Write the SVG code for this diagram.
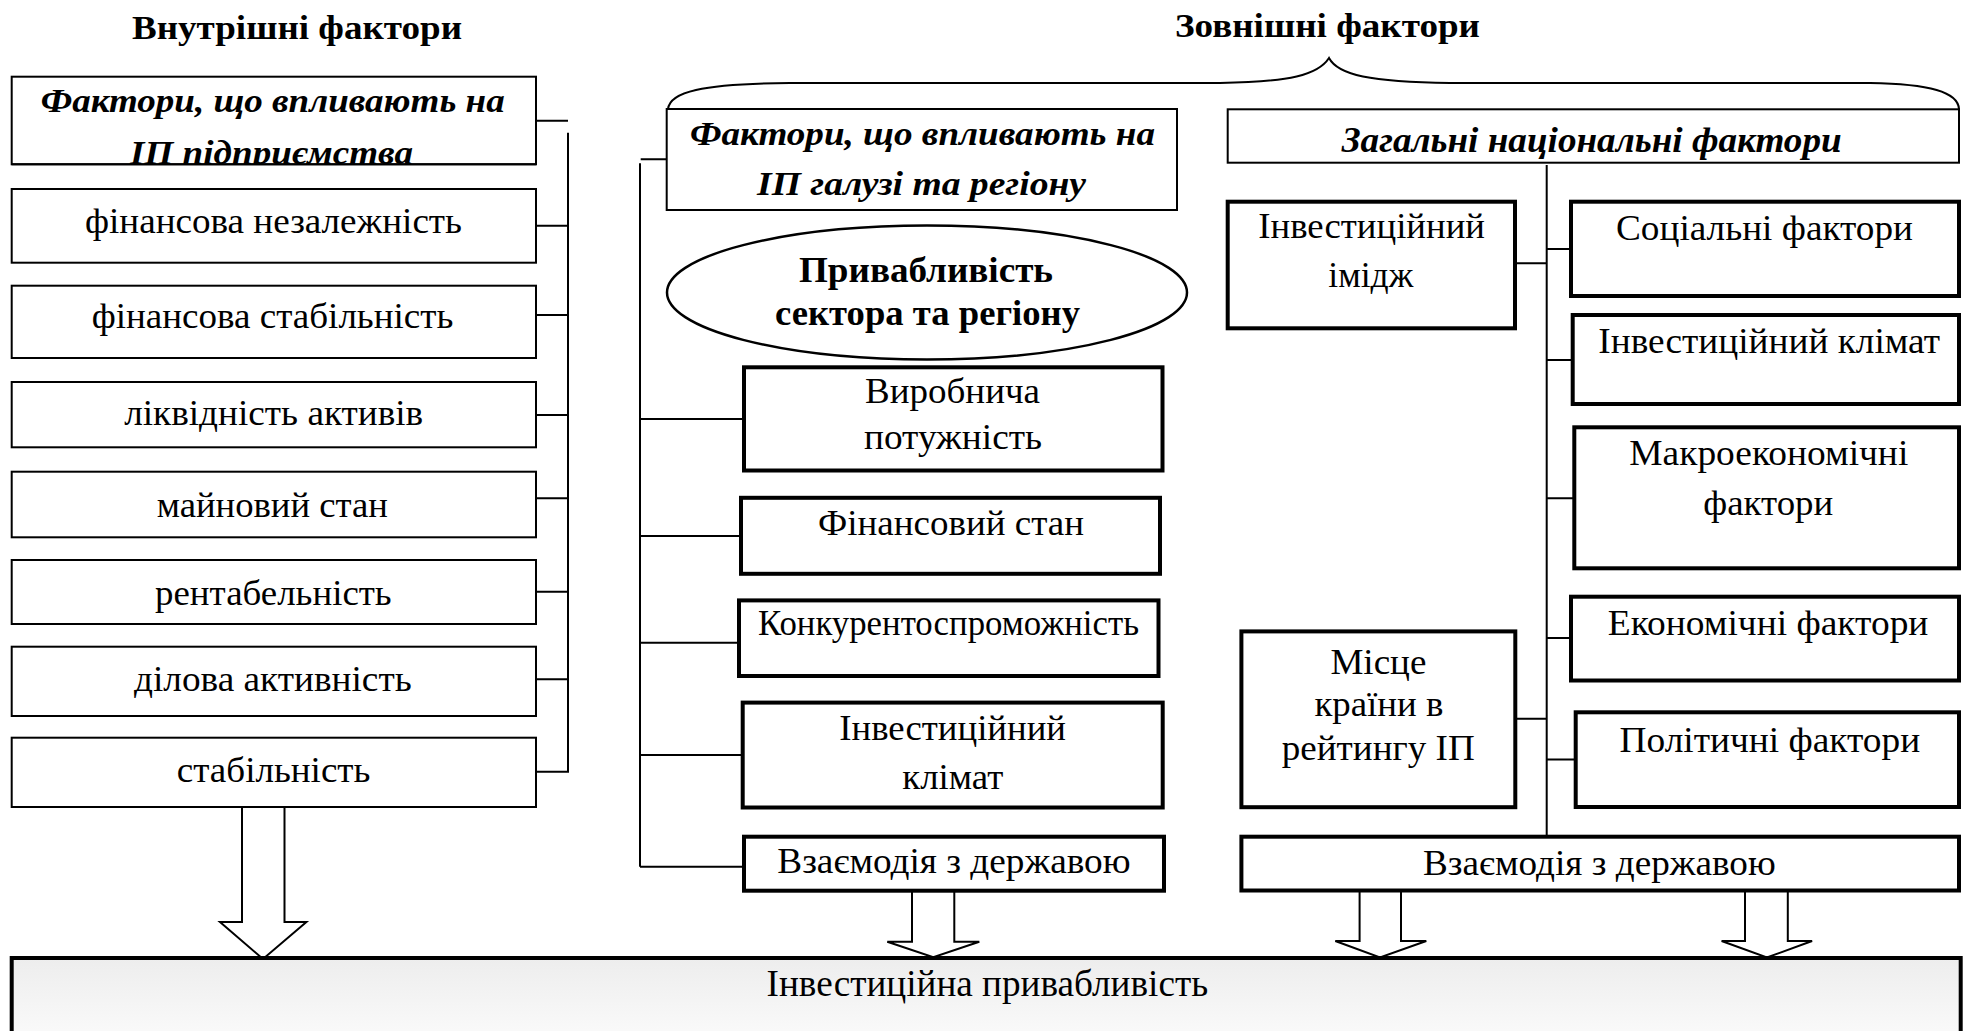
<svg xmlns="http://www.w3.org/2000/svg" width="1963" height="1031" viewBox="0 0 1963 1031">
<style>
.thin{fill:#fff;stroke:#000;stroke-width:2}
.thick{fill:#fff;stroke:#000;stroke-width:4}
.ell{fill:#fff;stroke:#000;stroke-width:2.5}
.ln{fill:none;stroke:#000;stroke-width:2}
.arr{fill:#fff;stroke:#000;stroke-width:2;stroke-linejoin:miter}
text{font-family:"Liberation Serif","Times New Roman",serif;font-size:36px;fill:#000}
.b{font-weight:bold}
.bi{font-weight:bold;font-style:italic;font-size:34px}
.ttl{font-weight:bold;font-size:34px}
</style>
<defs>
<linearGradient id="bg" x1="0" y1="0" x2="0" y2="1">
<stop offset="0" stop-color="#ededed"/>
<stop offset="1" stop-color="#fcfcfc"/>
</linearGradient>
<clipPath id="clip1"><rect x="11" y="76" width="526" height="88"/></clipPath>
</defs>
<rect width="1963" height="1031" fill="#fff"/>

<g id="connectors">
<path class="ln" d="M568,132.7V772.7M536,120.7H568M536,225.7H568M536,315H568M536,415H568M536,498.3H568M536,591.7H568M536,679.3H568M536,771.7H568"/>
<path class="ln" d="M640,163.3V866.7M640.7,159.3H666.7M640,418.9H744M640,536H741M640,642.7H739M640,755H742.7M640,866.7H744"/>
<path class="ln" d="M1546.7,165V836.7M1515,263.3H1546.7M1515,718.7H1546.7M1546.7,249H1571M1546.7,360H1572.7M1546.7,498.3H1574.3M1546.7,638H1571M1546.7,759.4H1575.7"/>
<path class="ln" d="M668,109C670,92 700,84 790,83L1220,83C1290,82 1318,75 1329,58C1338,75 1370,82 1450,83L1870,83C1930,84 1958,92 1959,109"/>
<path class="arr" d="M242,807V922H220L263,959L306.4,922H284.5V807"/>
<path class="arr" d="M912,890.7V941.7H887.3L933.3,957.3L979.3,941.7H954.3V890.7"/>
<path class="arr" d="M1359.6,890.5V941H1335.3L1380,957.5L1426.3,941H1401V890.5"/>
<path class="arr" d="M1745,890.5V941H1721.6L1766.9,957.5L1812.1,941H1787.8V890.5"/>
</g>

<g id="title-internal"><text class="ttl" x="132" y="39.3" textLength="330" lengthAdjust="spacingAndGlyphs">Внутрішні фактори</text></g>
<g id="title-external"><text class="ttl" x="1175" y="37" textLength="305" lengthAdjust="spacingAndGlyphs">Зовнішні фактори</text></g>

<g id="enterprise-factors">
<rect class="thin" x="11.7" y="76.7" width="524.3" height="87.6"/>
<text class="bi" x="40.7" y="112" textLength="464" lengthAdjust="spacingAndGlyphs">Фактори, що впливають на</text>
<text class="bi" x="130" y="164" textLength="283" lengthAdjust="spacingAndGlyphs" clip-path="url(#clip1)">ІП підприємства</text>
<path class="ln" d="M11.7,164.3H536"/>
</g>
<g id="fin-independence"><rect class="thin" x="11.7" y="189" width="524.3" height="73.7"/><text x="85" y="233.3" textLength="377" lengthAdjust="spacingAndGlyphs">фінансова незалежність</text></g>
<g id="fin-stability"><rect class="thin" x="11.7" y="285.7" width="524.3" height="72.3"/><text x="91.7" y="328.3" textLength="361.7" lengthAdjust="spacingAndGlyphs">фінансова стабільність</text></g>
<g id="liquidity"><rect class="thin" x="11.7" y="382" width="524.3" height="65.3"/><text x="124.2" y="425" textLength="299" lengthAdjust="spacingAndGlyphs">ліквідність активів</text></g>
<g id="property"><rect class="thin" x="11.7" y="471.7" width="524.3" height="65.6"/><text x="156.7" y="516.7" textLength="231.3" lengthAdjust="spacingAndGlyphs">майновий стан</text></g>
<g id="profitability"><rect class="thin" x="11.7" y="560" width="524.3" height="64"/><text x="155" y="605" textLength="236.7" lengthAdjust="spacingAndGlyphs">рентабельність</text></g>
<g id="business-activity"><rect class="thin" x="11.7" y="646.7" width="524.3" height="69.3"/><text x="134" y="690.7" textLength="277.7" lengthAdjust="spacingAndGlyphs">ділова активність</text></g>
<g id="stability"><rect class="thin" x="11.7" y="737.7" width="524.3" height="69.3"/><text x="176.8" y="782" textLength="193.6" lengthAdjust="spacingAndGlyphs">стабільність</text></g>

<g id="industry-factors">
<rect class="thin" x="666.7" y="109" width="510.3" height="101"/>
<text class="bi" x="690" y="145" textLength="465" lengthAdjust="spacingAndGlyphs">Фактори, що впливають на</text>
<text class="bi" x="757" y="195" textLength="329" lengthAdjust="spacingAndGlyphs">ІП галузі та регіону</text>
</g>
<g id="sector-attractiveness">
<ellipse class="ell" cx="927" cy="292.5" rx="260" ry="67"/>
<text class="b" x="799" y="281.7" textLength="254" lengthAdjust="spacingAndGlyphs">Привабливість</text>
<text class="b" x="775" y="325" textLength="305" lengthAdjust="spacingAndGlyphs">сектора та регіону</text>
</g>
<g id="capacity"><rect class="thick" x="744" y="367.3" width="418.5" height="103.2"/>
<text x="865" y="403.3" textLength="175" lengthAdjust="spacingAndGlyphs">Виробнича</text>
<text x="864" y="449" textLength="178" lengthAdjust="spacingAndGlyphs">потужність</text></g>
<g id="fin-state"><rect class="thick" x="741" y="497.8" width="419" height="76"/>
<text x="818" y="534.8" textLength="266" lengthAdjust="spacingAndGlyphs">Фінансовий стан</text></g>
<g id="competitiveness"><rect class="thick" x="739" y="600.4" width="419.5" height="75.6"/>
<text x="758" y="635" textLength="381" lengthAdjust="spacingAndGlyphs">Конкурентоспроможність</text></g>
<g id="inv-climate-sector"><rect class="thick" x="742.7" y="702.6" width="420" height="104.9"/>
<text x="839.3" y="740" textLength="226.7" lengthAdjust="spacingAndGlyphs">Інвестиційний</text>
<text x="902.3" y="789.3" textLength="101" lengthAdjust="spacingAndGlyphs">клімат</text></g>
<g id="state-interaction-sector"><rect class="thick" x="744" y="836.7" width="420" height="54"/>
<text x="777.3" y="873.3" textLength="353.3" lengthAdjust="spacingAndGlyphs">Взаємодія з державою</text></g>

<g id="national-factors"><rect class="thin" x="1227.7" y="109.3" width="731.3" height="53.4"/>
<text class="bi" style="font-size:36px" x="1341.7" y="151.7" textLength="500" lengthAdjust="spacingAndGlyphs">Загальні національні фактори</text></g>
<g id="inv-image"><rect class="thick" x="1227.7" y="201.7" width="287.3" height="126.6"/>
<text x="1258.3" y="238.3" textLength="226.7" lengthAdjust="spacingAndGlyphs">Інвестиційний</text>
<text x="1328.3" y="286.7" textLength="85" lengthAdjust="spacingAndGlyphs">імідж</text></g>
<g id="social"><rect class="thick" x="1571" y="201.7" width="388" height="94.3"/>
<text x="1616" y="240" textLength="297" lengthAdjust="spacingAndGlyphs">Соціальні фактори</text></g>
<g id="inv-climate-national"><rect class="thick" x="1572.7" y="315" width="386.3" height="89"/>
<text x="1598.3" y="353.3" textLength="341.7" lengthAdjust="spacingAndGlyphs">Інвестиційний клімат</text></g>
<g id="macro"><rect class="thick" x="1574.3" y="427.3" width="384.7" height="141"/>
<text x="1629.3" y="465" textLength="279" lengthAdjust="spacingAndGlyphs">Макроекономічні</text>
<text x="1703.3" y="515" textLength="130" lengthAdjust="spacingAndGlyphs">фактори</text></g>
<g id="economic"><rect class="thick" x="1571" y="596.7" width="388" height="83.8"/>
<text x="1607.8" y="635.4" textLength="320.6" lengthAdjust="spacingAndGlyphs">Економічні фактори</text></g>
<g id="political"><rect class="thick" x="1575.7" y="712.3" width="383.3" height="94.7"/>
<text x="1619.5" y="752" textLength="300.7" lengthAdjust="spacingAndGlyphs">Політичні фактори</text></g>
<g id="country-rank"><rect class="thick" x="1241.4" y="631.4" width="273.9" height="175.8"/>
<text x="1330.4" y="673.6" textLength="96" lengthAdjust="spacingAndGlyphs">Місце</text>
<text x="1314.4" y="715.9" textLength="129" lengthAdjust="spacingAndGlyphs">країни в</text>
<text x="1281.7" y="760" textLength="193" lengthAdjust="spacingAndGlyphs">рейтингу ІП</text></g>
<g id="state-interaction-national"><rect class="thick" x="1241.4" y="836.7" width="717.6" height="53.8"/>
<text x="1423" y="874.8" textLength="352.7" lengthAdjust="spacingAndGlyphs">Взаємодія з державою</text></g>

<g id="investment-attractiveness"><rect x="11.7" y="958" width="1949" height="90" fill="url(#bg)" stroke="#000" stroke-width="4"/>
<text style="font-size:37px" x="766.6" y="996" textLength="441.5" lengthAdjust="spacingAndGlyphs">Інвестиційна привабливість</text></g>
</svg>
